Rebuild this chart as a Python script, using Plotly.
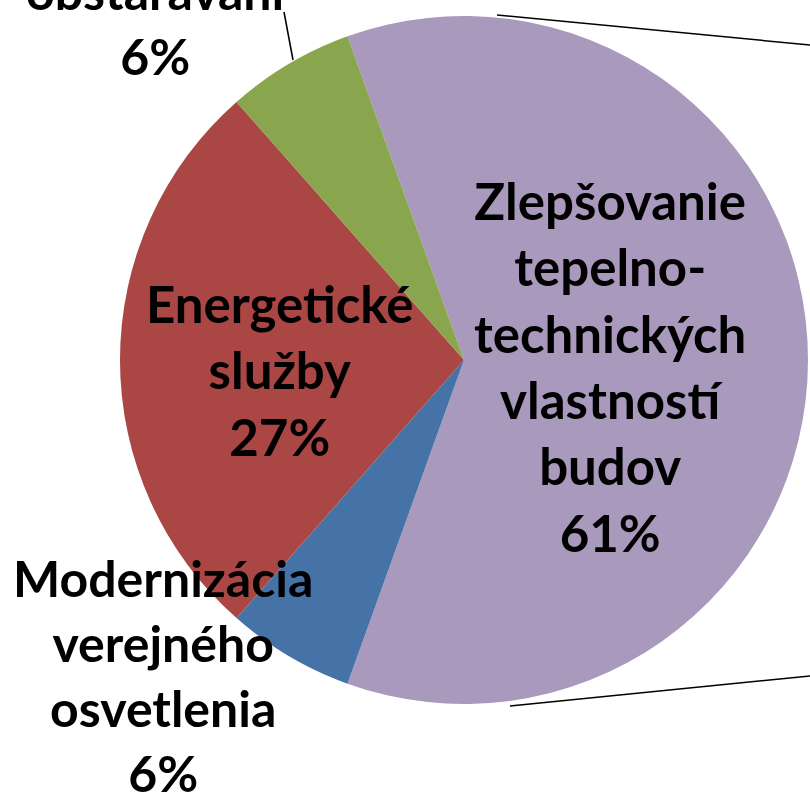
import plotly.graph_objects as go

# Data (clockwise from the upper-left boundary)
labels = ["Zlepšovanie tepelno-technických vlastností budov",
          "Modernizácia verejného osvetlenia",
          "Energetické služby",
          "obstarávaní"]
label_lines = [["Zlepšovanie", "tepelno-", "technických", "vlastností", "budov"],
               ["Modernizácia", "verejného", "osvetlenia"],
               ["Energetické", "služby"],
               ["obstarávaní"]]
values = [61, 6, 27, 6]
colors = ["#A899BD", "#4572A7", "#AA4643", "#89A54E"]

W, H = 810, 795

fig = go.Figure(go.Pie(
    labels=labels, values=values, sort=False, direction="clockwise",
    rotation=-19.8, textinfo="none", hoverinfo="label+percent",
    marker=dict(colors=colors, line=dict(width=0)),
    domain=dict(x=[120 / W, 808 / W], y=[1 - 704 / H, 1 - 16 / H]),
    showlegend=False,
))

# label positions in pixels (layout only)
label_pos = [(610, 366), (163, 675), (280, 370), (157, 24)]
font_sizes = [51, 50, 51, 50]
total = sum(values)
for lines, v, (px, py), fs in zip(label_lines, values, label_pos, font_sizes):
    txt = "<br>".join(lines + [f"{round(100 * v / total)}%"])
    fig.add_annotation(x=px / W, y=1 - py / H, xref="paper", yref="paper",
                       text=txt, showarrow=False, xanchor="center", yanchor="middle",
                       align="center",
                       font=dict(family="Lato", size=fs, color="black", weight="bold"))

# leader line of the small label and connector lines to the secondary chart
segments = [((284, 12), (293, 60)), ((497, 15), (810, 45)), ((510, 706), (810, 676))]
for (x0, y0), (x1, y1) in segments:
    fig.add_shape(type="line", xref="paper", yref="paper",
                  x0=x0 / W, y0=1 - y0 / H, x1=x1 / W, y1=1 - y1 / H,
                  line=dict(color="black", width=1.5))

fig.update_layout(width=W, height=H, margin=dict(l=0, r=0, t=0, b=0),
                  paper_bgcolor="white", plot_bgcolor="white")
fig.write_html("out.html", config={"displayModeBar": False},
               post_script="document.body.style.margin='0';document.body.style.padding='0';")
